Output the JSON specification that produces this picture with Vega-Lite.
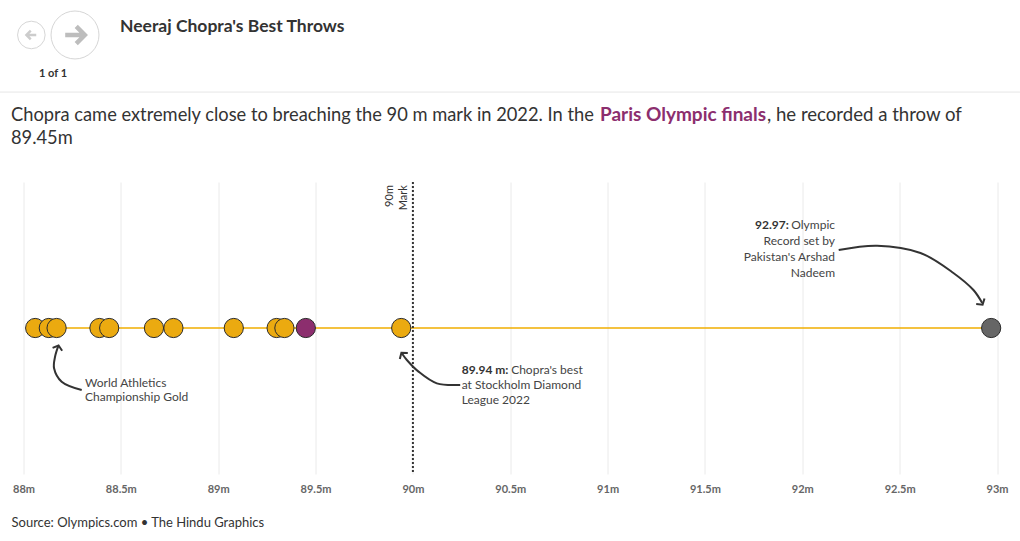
{
  "$schema": "https://vega.github.io/schema/vega-lite/v6.json",
  "autosize": "none",
  "width": 973.5,
  "height": 292,
  "padding": {"left": 23.5, "top": 182, "right": 23, "bottom": 67},
  "background": "white",
  "config": {
    "view": {"stroke": null},
    "font": "Lato",
    "text": {"font": "Lato"},
    "axisX": {
      "grid": true,
      "gridColor": "#eaeaea",
      "gridWidth": 1,
      "domain": false,
      "ticks": false,
      "labelFlush": false,
      "labelPadding": 9,
      "labelFont": "Lato",
      "labelFontSize": 11,
      "labelFontWeight": "bold",
      "labelColor": "#666666",
      "titleFont": "Lato",
      "titleFontSize": 13,
      "titleFontWeight": "normal",
      "titleColor": "#333333",
      "titleAnchor": "start",
      "titleAlign": "left",
      "titleBaseline": "alphabetic",
      "titleX": -12.5,
      "titleY": 52
    }
  },
  "data": {"values": [{}]},
  "datasets": {
    "throws": [
      {"distance": 88.06, "type": "Chopra"},
      {"distance": 88.13, "type": "Chopra"},
      {"distance": 88.17, "type": "Chopra"},
      {"distance": 88.39, "type": "Chopra"},
      {"distance": 88.44, "type": "Chopra"},
      {"distance": 88.67, "type": "Chopra"},
      {"distance": 88.77, "type": "Chopra"},
      {"distance": 89.08, "type": "Chopra"},
      {"distance": 89.30, "type": "Chopra"},
      {"distance": 89.34, "type": "Chopra"},
      {"distance": 89.45, "type": "Paris final"},
      {"distance": 89.94, "type": "Chopra"},
      {"distance": 92.97, "type": "Olympic record"}
    ],
    "arrows": [
      {"a": "record", "i": 0, "m": 92.187, "v": 0.534},
      {"a": "record", "i": 1, "m": 92.384, "v": 0.564},
      {"a": "record", "i": 2, "m": 92.607, "v": 0.514},
      {"a": "record", "i": 3, "m": 92.776, "v": 0.377},
      {"a": "record", "i": 4, "m": 92.879, "v": 0.260},
      {"a": "record", "i": 5, "m": 92.924, "v": 0.171},
      {"a": "best", "i": 0, "m": 90.243, "v": -0.390},
      {"a": "best", "i": 1, "m": 90.123, "v": -0.379},
      {"a": "best", "i": 2, "m": 90.029, "v": -0.299},
      {"a": "best", "i": 3, "m": 89.969, "v": -0.219},
      {"a": "best", "i": 4, "m": 89.943, "v": -0.173},
      {"a": "gold", "i": 0, "m": 88.299, "v": -0.425},
      {"a": "gold", "i": 1, "m": 88.196, "v": -0.368},
      {"a": "gold", "i": 2, "m": 88.157, "v": -0.276},
      {"a": "gold", "i": 3, "m": 88.162, "v": -0.197},
      {"a": "gold", "i": 4, "m": 88.179, "v": -0.123}
    ]
  },
  "layer": [
    {
      "data": {"name": "throws"},
      "mark": {"type": "rule", "color": "#F0AE00", "strokeWidth": 1.5},
      "encoding": {
        "x": {
          "aggregate": "min", "field": "distance", "type": "quantitative",
          "scale": {"domain": [88, 93], "nice": false, "zero": false},
          "axis": {
            "values": [88, 88.5, 89, 89.5, 90, 90.5, 91, 91.5, 92, 92.5, 93],
            "labelExpr": "datum.value + 'm'",
            "title": "Source: Olympics.com • The Hindu Graphics"
          }
        },
        "x2": {"aggregate": "max", "field": "distance"},
        "y": {"datum": 0, "type": "quantitative", "scale": {"domain": [-1, 1]}, "axis": null}
      }
    },
    {
      "data": {"values": [{"m": 87.879, "m2": 93.118, "v": 1.616}]},
      "mark": {"type": "rule", "color": "#e6e6e6", "strokeWidth": 1},
      "encoding": {
        "x": {"field": "m", "type": "quantitative", "scale": {"domain": [88, 93], "nice": false, "zero": false}},
        "x2": {"field": "m2"},
        "y": {"field": "v", "type": "quantitative", "scale": {"domain": [-1, 1]}, "axis": null}
      }
    },
    {
      "mark": {"type": "rule", "color": "#333333", "strokeWidth": 2, "strokeDash": [2, 2]},
      "encoding": {
        "x": {"datum": 90, "type": "quantitative", "scale": {"domain": [88, 93], "nice": false, "zero": false}}
      }
    },
    {
      "mark": {"type": "text", "angle": 270, "align": "right", "baseline": "middle", "fontSize": 11, "lineHeight": 14, "color": "#333333", "font": "Lato"},
      "encoding": {
        "x": {"datum": 89.882, "type": "quantitative", "scale": {"domain": [88, 93], "nice": false, "zero": false}},
        "y": {"datum": 0.979, "type": "quantitative", "scale": {"domain": [-1, 1]}, "axis": null},
        "text": {"value": ["90m", "Mark"]}
      }
    },
    {
      "data": {"name": "throws"},
      "mark": {"type": "point", "filled": true, "size": 370, "opacity": 1, "stroke": "#2b2b2b", "strokeWidth": 1},
      "encoding": {
        "x": {"field": "distance", "type": "quantitative", "scale": {"domain": [88, 93], "nice": false, "zero": false}},
        "y": {"datum": 0, "type": "quantitative", "scale": {"domain": [-1, 1]}, "axis": null},
        "color": {
          "field": "type", "type": "nominal",
          "scale": {"domain": ["Chopra", "Paris final", "Olympic record"], "range": ["#EBAA10", "#8C2E6E", "#666666"]},
          "legend": null
        }
      }
    },
    {
      "data": {"name": "arrows"},
      "mark": {"type": "line", "interpolate": "catmull-rom", "color": "#333333", "strokeWidth": 2},
      "encoding": {
        "x": {"field": "m", "type": "quantitative", "scale": {"domain": [88, 93], "nice": false, "zero": false}},
        "y": {"field": "v", "type": "quantitative", "scale": {"domain": [-1, 1]}, "axis": null},
        "detail": {"field": "a"},
        "order": {"field": "i", "type": "quantitative"}
      }
    },
    {
      "mark": {"type": "point", "shape": "M-1,0.8L0,0L1,0.8", "filled": false, "size": 100, "stroke": "#333333", "strokeWidth": 2, "angle": 146, "opacity": 1},
      "encoding": {
        "x": {"datum": 92.926, "type": "quantitative", "scale": {"domain": [88, 93], "nice": false, "zero": false}},
        "y": {"datum": 0.16, "type": "quantitative", "scale": {"domain": [-1, 1]}, "axis": null}
      }
    },
    {
      "mark": {"type": "point", "shape": "M-1,0.8L0,0L1,0.8", "filled": false, "size": 100, "stroke": "#333333", "strokeWidth": 2, "angle": 323, "opacity": 1},
      "encoding": {
        "x": {"datum": 89.941, "type": "quantitative", "scale": {"domain": [88, 93], "nice": false, "zero": false}},
        "y": {"datum": -0.17, "type": "quantitative", "scale": {"domain": [-1, 1]}, "axis": null}
      }
    },
    {
      "mark": {"type": "point", "shape": "M-1,0.8L0,0L1,0.8", "filled": false, "size": 100, "stroke": "#333333", "strokeWidth": 2, "angle": 17, "opacity": 1},
      "encoding": {
        "x": {"datum": 88.18, "type": "quantitative", "scale": {"domain": [88, 93], "nice": false, "zero": false}},
        "y": {"datum": -0.12, "type": "quantitative", "scale": {"domain": [-1, 1]}, "axis": null}
      }
    },
    {
      "data": {"values": [
        {"m": 91.757, "v": 0.705, "t": "92.97:"},
        {"m": 90.2506, "v": -0.288, "t": "89.94 m:"}
      ]},
      "mark": {"type": "text", "align": "left", "baseline": "middle", "fontSize": 12, "fontWeight": "bold", "color": "#333333", "font": "Lato"},
      "encoding": {
        "x": {"field": "m", "type": "quantitative", "scale": {"domain": [88, 93], "nice": false, "zero": false}},
        "y": {"field": "v", "type": "quantitative", "scale": {"domain": [-1, 1]}, "axis": null},
        "text": {"field": "t"}
      }
    },
    {
      "data": {"values": [
        {"m": 92.168, "v": 0.705, "t": "Olympic"},
        {"m": 92.168, "v": 0.596, "t": "Record set by"},
        {"m": 92.168, "v": 0.486, "t": "Pakistan's Arshad"},
        {"m": 92.168, "v": 0.377, "t": "Nadeem"},
        {"m": 90.872, "v": -0.288, "t": "Chopra's best"}
      ]},
      "mark": {"type": "text", "align": "right", "baseline": "middle", "fontSize": 12, "color": "#444444", "font": "Lato"},
      "encoding": {
        "x": {"field": "m", "type": "quantitative", "scale": {"domain": [88, 93], "nice": false, "zero": false}},
        "y": {"field": "v", "type": "quantitative", "scale": {"domain": [-1, 1]}, "axis": null},
        "text": {"field": "t"}
      }
    },
    {
      "data": {"values": [
        {"m": 90.2506, "v": -0.390, "t": "at Stockholm Diamond"},
        {"m": 90.2506, "v": -0.493, "t": "League 2022"},
        {"m": 88.316, "v": -0.379, "t": "World Athletics"},
        {"m": 88.316, "v": -0.475, "t": "Championship Gold"}
      ]},
      "mark": {"type": "text", "align": "left", "baseline": "middle", "fontSize": 12, "color": "#444444", "font": "Lato"},
      "encoding": {
        "x": {"field": "m", "type": "quantitative", "scale": {"domain": [88, 93], "nice": false, "zero": false}},
        "y": {"field": "v", "type": "quantitative", "scale": {"domain": [-1, 1]}, "axis": null},
        "text": {"field": "t"}
      }
    },
    {
      "data": {"values": [
        {"m": 87.9358, "v": 1.4178, "t": "Chopra came extremely close to breaching the 90 m mark in 2022. In the"},
        {"m": 87.9358, "v": 1.2603, "t": "89.45m"}
      ]},
      "mark": {"type": "text", "align": "left", "baseline": "alphabetic", "fontSize": 18.3, "color": "#333333", "font": "Lato"},
      "encoding": {
        "x": {"field": "m", "type": "quantitative", "scale": {"domain": [88, 93], "nice": false, "zero": false}},
        "y": {"field": "v", "type": "quantitative", "scale": {"domain": [-1, 1]}, "axis": null},
        "text": {"field": "t"}
      }
    },
    {
      "mark": {"type": "text", "align": "left", "baseline": "alphabetic", "fontSize": 18.6, "color": "#333333", "font": "Lato"},
      "encoding": {
        "x": {"datum": 91.8185, "type": "quantitative", "scale": {"domain": [88, 93], "nice": false, "zero": false}},
        "y": {"datum": 1.4178, "type": "quantitative", "scale": {"domain": [-1, 1]}, "axis": null},
        "text": {"value": ", he recorded a throw of"}
      }
    },
    {
      "mark": {"type": "text", "align": "left", "baseline": "alphabetic", "fontSize": 19, "fontWeight": "bold", "color": "#8C2E6E", "font": "Lato"},
      "encoding": {
        "x": {"datum": 90.961, "type": "quantitative", "scale": {"domain": [88, 93], "nice": false, "zero": false}},
        "y": {"datum": 1.4178, "type": "quantitative", "scale": {"domain": [-1, 1]}, "axis": null},
        "text": {"value": "Paris Olympic finals"}
      }
    },
    {
      "mark": {"type": "text", "align": "left", "baseline": "alphabetic", "fontSize": 17.5, "fontWeight": "bold", "color": "#333333", "font": "Lato"},
      "encoding": {
        "x": {"datum": 88.4956, "type": "quantitative", "scale": {"domain": [88, 93], "nice": false, "zero": false}},
        "y": {"datum": 2.0308, "type": "quantitative", "scale": {"domain": [-1, 1]}, "axis": null},
        "text": {"value": "Neeraj Chopra's Best Throws"}
      }
    },
    {
      "data": {"values": [
        {"m": 88.0403, "v": 2.007, "s": "back"},
        {"m": 88.2645, "v": 2.007, "s": "next"}
      ]},
      "mark": {"type": "point", "shape": "circle", "filled": true, "fill": "white", "stroke": "#d6d6d6", "strokeWidth": 1, "opacity": 1},
      "encoding": {
        "x": {"field": "m", "type": "quantitative", "scale": {"domain": [88, 93], "nice": false, "zero": false}},
        "y": {"field": "v", "type": "quantitative", "scale": {"domain": [-1, 1]}, "axis": null},
        "size": {"field": "s", "type": "nominal", "scale": {"domain": ["back", "next"], "range": [760, 2300]}, "legend": null}
      }
    },
    {
      "mark": {"type": "point", "shape": "M-0.8,0L0.8,0M0.1,-0.7L0.8,0L0.1,0.7", "filled": false, "size": 150, "stroke": "#cccccc", "strokeWidth": 2.5, "angle": 180, "opacity": 1},
      "encoding": {
        "x": {"datum": 88.0403, "type": "quantitative", "scale": {"domain": [88, 93], "nice": false, "zero": false}},
        "y": {"datum": 2.007, "type": "quantitative", "scale": {"domain": [-1, 1]}, "axis": null}
      }
    },
    {
      "mark": {"type": "point", "shape": "M-0.8,0L0.8,0M0.1,-0.7L0.8,0L0.1,0.7", "filled": false, "size": 600, "stroke": "#bdbdbd", "strokeWidth": 4.5, "opacity": 1},
      "encoding": {
        "x": {"datum": 88.2645, "type": "quantitative", "scale": {"domain": [88, 93], "nice": false, "zero": false}},
        "y": {"datum": 2.007, "type": "quantitative", "scale": {"domain": [-1, 1]}, "axis": null}
      }
    },
    {
      "mark": {"type": "text", "align": "center", "baseline": "middle", "fontSize": 11, "fontWeight": "bold", "color": "#333333", "font": "Lato"},
      "encoding": {
        "x": {"datum": 88.1516, "type": "quantitative", "scale": {"domain": [88, 93], "nice": false, "zero": false}},
        "y": {"datum": 1.7397, "type": "quantitative", "scale": {"domain": [-1, 1]}, "axis": null},
        "text": {"value": "1 of 1"}
      }
    }
  ]
}
